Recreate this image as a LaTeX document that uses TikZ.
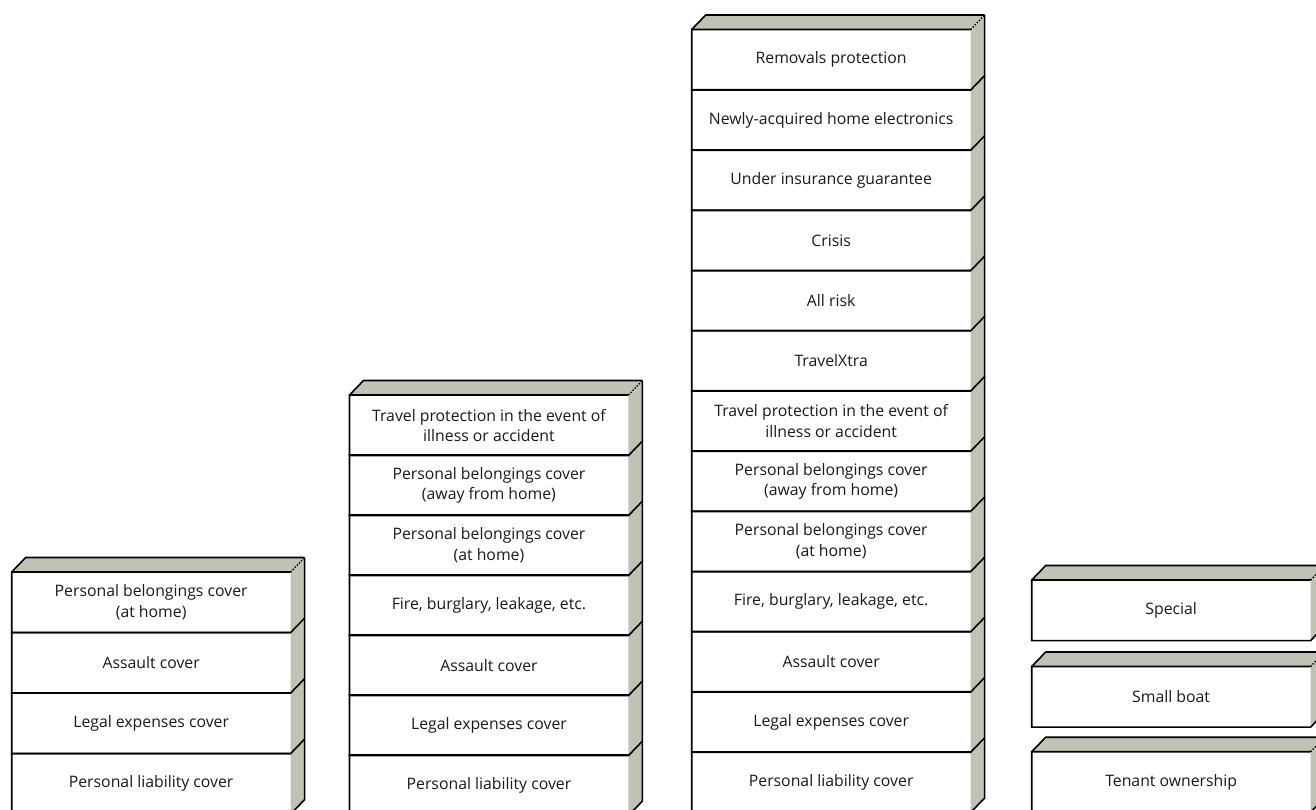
\documentclass[tikz,border=0pt]{standalone}
\usepackage{fontspec}
\setmainfont{Open Sans}
\usetikzlibrary{calc}
\definecolor{sidegray}{RGB}{190,195,182}
\definecolor{inktext}{RGB}{25,25,25}
\tikzset{
  front/.style={minimum width=278.5pt, minimum height=60.2pt, inner sep=0pt,
    anchor=north west, align=center, text=inktext,
    font=\fontsize{15.8}{20.5}\selectfont},
  edge/.style={line width=1.6pt, line join=miter, line cap=butt},
  dotline/.style={line width=1.4pt, dash pattern=on 1.4pt off 1.6pt},
  shade/.style={fill=sidegray},
}
\newcommand\colfaces[2]{%
  \foreach \i in {0,...,#2}{
    \fill[shade] (#1\i.north east) -- ++(14,-14.5) -- ($(#1\i.south east)+(14,-14.5)$) -- (#1\i.south east) -- cycle;}
  \fill[shade] (#10.north west) -- ++(14,-14.5) -- ($(#10.north east)+(14,-14.5)$) -- (#10.north east) -- cycle;
  \foreach \i in {0,...,#2}{
    \draw[edge] (#1\i.north east) -- (#1\i.north west) -- (#1\i.south west) -- (#1\i.south east) -- ++(14,-14.5) -- ($(#1\i.north east)+(14,-14.5)$);}
  \draw[edge] (#10.north west) -- ++(14,-14.5) -- ($(#10.north east)+(14,-14.5)$);
  \draw[dotline] (#10.north east) -- ++(14,-14.5);
}
\begin{document}
\begin{tikzpicture}[x=1pt,y=-1pt]
\useasboundingbox (0,0) rectangle (1316,809);
\clip (0,0) rectangle (1316,809);
% column 1
\foreach \t [count=\i from 0] in {{Personal belongings cover\\(at home)},{Assault cover},{Legal expenses cover},{Personal liability cover}}{
  \node[front] (a-\i) at (11.7,572+60.5*\i) {\t};}
\colfaces{a-}{3}
% column 2
\foreach \t [count=\i from 0] in {{Travel protection in the event of\\illness or accident},{Personal belongings cover\\(away from home)},{Personal belongings cover\\(at home)},{Fire, burglary, leakage, etc.},{Assault cover},{Legal expenses cover},{Personal liability cover}}{
  \node[front] (b-\i) at (349.5,395+60*\i) {\t};}
\colfaces{b-}{6}
% column 3
\foreach \t [count=\i from 0] in {{Removals protection},{Newly-acquired home electronics},{Under insurance guarantee},{Crisis},{All risk},{TravelXtra},{Travel protection in the event of\\illness or accident},{Personal belongings cover\\(away from home)},{Personal belongings cover\\(at home)},{Fire, burglary, leakage, etc.},{Assault cover},{Legal expenses cover},{Personal liability cover}}{
  \node[front] (c-\i) at (691.7,29.5+60.2*\i) {\t};}
\colfaces{c-}{12}
% column 4
\node[front] (d-0) at (1031.7,580) {Special};
\colfaces{d-}{0}
\node[front] (e-0) at (1031.7,666.5) {Small boat};
\colfaces{e-}{0}
\node[front] (f-0) at (1031.7,751.7) {Tenant ownership};
\colfaces{f-}{0}
\end{tikzpicture}
\end{document}
